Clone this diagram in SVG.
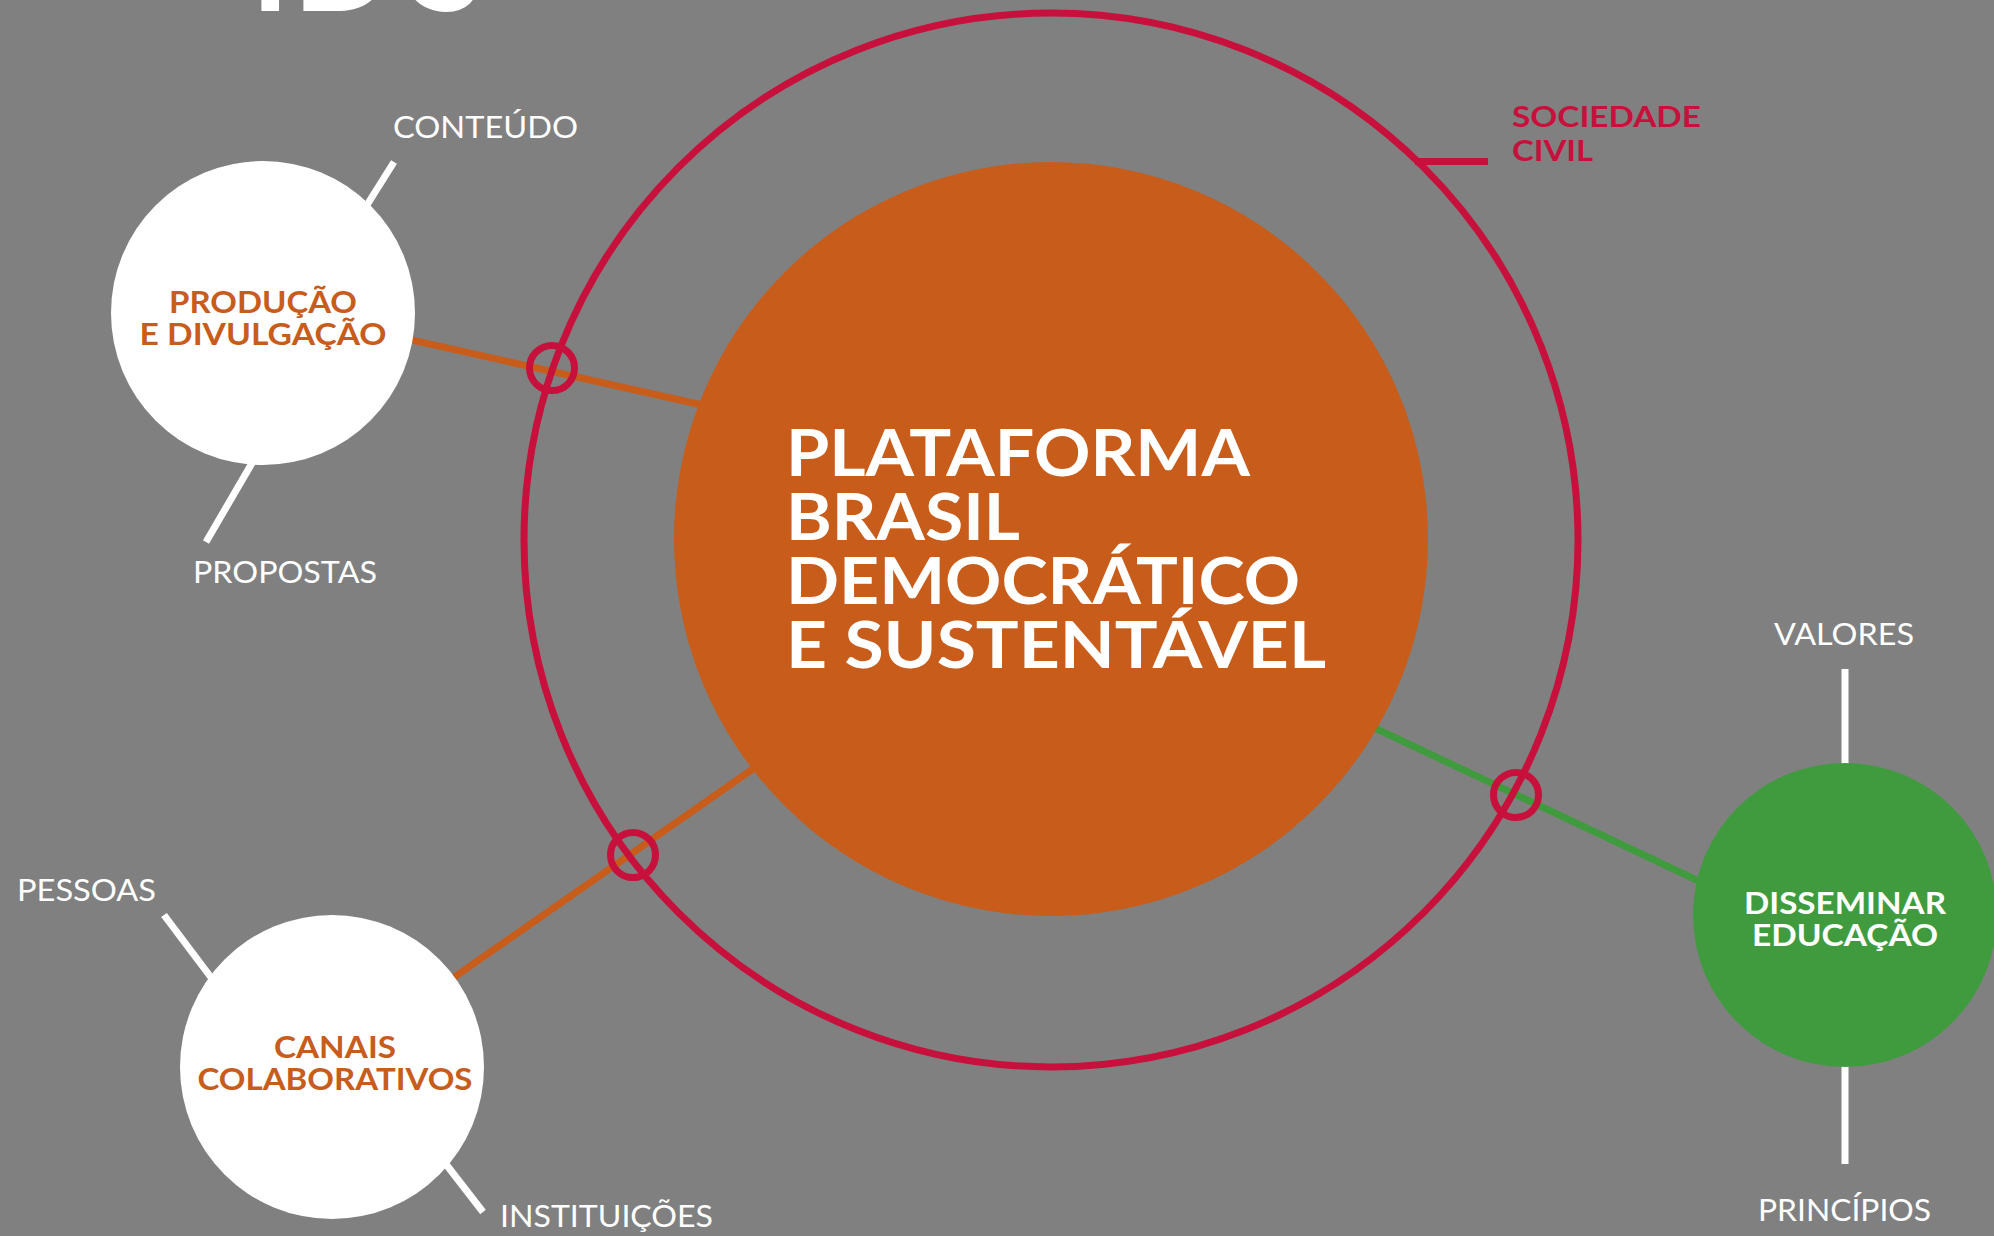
<svg xmlns="http://www.w3.org/2000/svg" width="1994" height="1236" viewBox="0 0 1994 1236">
<style>
.lbl{font-family:Lato,"Liberation Sans",sans-serif;font-weight:400;font-size:30px;fill:#ffffff}
.nd{font-family:Lato,"Liberation Sans",sans-serif;font-weight:700;font-size:30px;text-anchor:middle}
.or{fill:#C85C1B}
.wt{fill:#ffffff}
.main{font-family:Lato,"Liberation Sans",sans-serif;font-weight:700;font-size:65px;fill:#ffffff}
.tick{stroke:#ffffff;stroke-width:7;fill:none}
.ring{fill:none;stroke:#C8103C;stroke-width:7}
</style>
<rect x="0" y="0" width="1994" height="1236" fill="#808080"/>
<text x="251 293 412" y="11" font-family="Lato,'Liberation Sans',sans-serif" font-weight="700" font-size="130" fill="#ffffff">IDS</text>

<g id="connectors">
  <line x1="300" y1="315" x2="720" y2="409" stroke="#C85C1B" stroke-width="7"/>
  <line x1="400" y1="1015" x2="780" y2="750" stroke="#C85C1B" stroke-width="7"/>
  <line x1="1360" y1="721" x2="1760" y2="910" stroke="#409B3F" stroke-width="7"/>
  <line class="tick" x1="394" y1="162" x2="350" y2="232"/>
  <line class="tick" x1="206" y1="542" x2="262" y2="446"/>
  <line class="tick" x1="164" y1="915" x2="225" y2="996"/>
  <line class="tick" x1="483" y1="1212" x2="435" y2="1150"/>
  <line class="tick" x1="1845" y1="669" x2="1845" y2="790"/>
  <line class="tick" x1="1845" y1="1040" x2="1845" y2="1164"/>
  <line x1="1415" y1="161.5" x2="1488" y2="161.5" stroke="#C8103C" stroke-width="7"/>
</g>

<g id="sociedade-civil">
  <circle class="ring" cx="1051" cy="540" r="527"/>
  <text x="1512" y="127" font-family="Lato,'Liberation Sans',sans-serif" font-weight="700" font-size="29" fill="#C8103C" textLength="189" lengthAdjust="spacingAndGlyphs">SOCIEDADE</text>
  <text x="1512" y="161" font-family="Lato,'Liberation Sans',sans-serif" font-weight="700" font-size="29" fill="#C8103C" textLength="81" lengthAdjust="spacingAndGlyphs">CIVIL</text>
</g>

<g id="plataforma">
  <circle cx="1051" cy="539" r="377" fill="#C85C1B"/>
  <text class="main" x="786" y="476" textLength="464" lengthAdjust="spacingAndGlyphs">PLATAFORMA</text>
  <text class="main" x="786" y="540" textLength="234" lengthAdjust="spacingAndGlyphs">BRASIL</text>
  <text class="main" x="786" y="604" textLength="514" lengthAdjust="spacingAndGlyphs">DEMOCRÁTICO</text>
  <text class="main" x="786" y="668" textLength="540" lengthAdjust="spacingAndGlyphs">E SUSTENTÁVEL</text>
</g>

<g id="junctions">
  <circle class="ring" cx="552" cy="368" r="22.5"/>
  <circle class="ring" cx="633" cy="855" r="22.5"/>
  <circle class="ring" cx="1516" cy="795" r="22.5"/>
</g>

<g id="producao">
  <circle cx="263" cy="313" r="152" fill="#ffffff"/>
  <text class="nd or" x="263" y="313" textLength="188" lengthAdjust="spacingAndGlyphs">PRODUÇÃO</text>
  <text class="nd or" x="263" y="345" textLength="247" lengthAdjust="spacingAndGlyphs">E DIVULGAÇÃO</text>
  <text class="lbl" x="393" y="138" textLength="185" lengthAdjust="spacingAndGlyphs">CONTEÚDO</text>
  <text class="lbl" x="193" y="583" textLength="184" lengthAdjust="spacingAndGlyphs">PROPOSTAS</text>
</g>

<g id="canais">
  <circle cx="332" cy="1067" r="152" fill="#ffffff"/>
  <text class="nd or" x="335" y="1058" textLength="122" lengthAdjust="spacingAndGlyphs">CANAIS</text>
  <text class="nd or" x="335" y="1090" textLength="275" lengthAdjust="spacingAndGlyphs">COLABORATIVOS</text>
  <text class="lbl" x="17" y="901" textLength="139" lengthAdjust="spacingAndGlyphs">PESSOAS</text>
  <text class="lbl" x="500" y="1227" textLength="213" lengthAdjust="spacingAndGlyphs">INSTITUIÇÕES</text>
</g>

<g id="disseminar">
  <circle cx="1845" cy="915" r="152" fill="#409B3F"/>
  <text class="nd wt" x="1845" y="914" textLength="202" lengthAdjust="spacingAndGlyphs">DISSEMINAR</text>
  <text class="nd wt" x="1845" y="946" textLength="186" lengthAdjust="spacingAndGlyphs">EDUCAÇÃO</text>
  <text class="lbl" x="1774" y="645" textLength="140" lengthAdjust="spacingAndGlyphs">VALORES</text>
  <text class="lbl" x="1758" y="1221" textLength="173" lengthAdjust="spacingAndGlyphs">PRINCÍPIOS</text>
</g>
</svg>
